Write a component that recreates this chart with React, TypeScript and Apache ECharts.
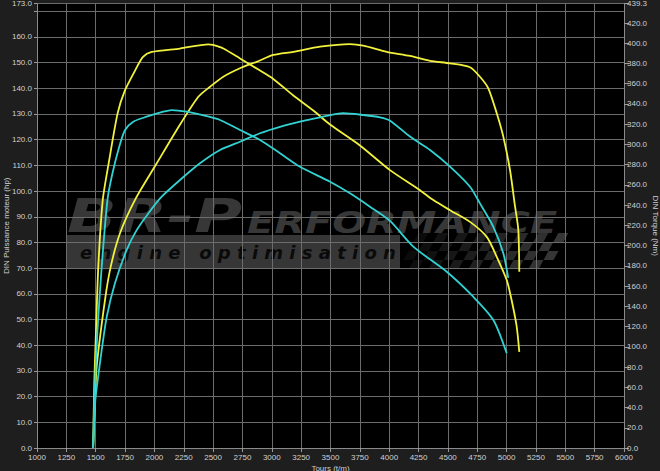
import React, { useEffect, useRef } from 'react';
import * as echarts from 'echarts';

// Engine speed axis (t/m)
const rpmMin = 1000;
const rpmMax = 6000;
const rpmStep = 250;

// Left axis (hp) and right axis (Nm)
const hpMax = 173;
const hpStep = 10;
const nmMax = 439.3;
const nmStep = 20;

// [rpm, hp] tuned power (yellow)
const tunedPower: [number, number][] = [
  [1478, 0], [1495, 18.7], [1508, 31.6], [1579, 57.6], [1628, 70.6], [1707, 83.6],
  [1835, 96.6], [2020, 110.8], [2190, 123.8], [2374, 136.7], [2474, 140.6], [2587, 144.5],
  [2729, 147.8], [2871, 150.3], [3013, 153], [3183, 154.2], [3411, 156.2], [3666, 157.2],
  [3779, 156.6], [3979, 154.2], [4177, 152.6], [4348, 150.7], [4518, 149.7], [4688, 148.2],
  [4773, 144.5], [4844, 140], [4916, 130.3], [4972, 121.2], [5029, 108.2], [5072, 94],
  [5100, 84.8], [5108, 68.6],
];

// [rpm, Nm] tuned torque (yellow)
const tunedTorque: [number, number][] = [
  [1478, 0], [1488, 64], [1502, 113.6], [1522, 179], [1560, 245], [1610, 281], [1687, 331],
  [1750, 353.6], [1835, 373], [1903, 386.5], [1977, 391.4], [2218, 394.8], [2459, 399],
  [2499, 398.3], [2587, 394.8], [2729, 385], [2900, 373], [3010, 365], [3181, 348.6],
  [3351, 333.8], [3496, 319.7], [3751, 299], [4007, 274.6], [4262, 254.8], [4376, 245],
  [4518, 235], [4688, 223.5], [4831, 208.7], [4916, 189], [5001, 166], [5043, 146],
  [5086, 120], [5108, 95],
];

// [rpm, hp] stock power (cyan)
const stockPower: [number, number][] = [
  [1478, 0], [1497, 18.7], [1514, 25.3], [1551, 38.1], [1594, 51.1], [1664, 64.1],
  [1764, 77.1], [1849, 84.8], [1948, 91.3], [2062, 97.8], [2218, 104.3], [2388, 110.8],
  [2559, 116], [2729, 119.2], [2900, 122.5], [3070, 125], [3240, 127], [3411, 128.7],
  [3609, 130.3], [3779, 129.6], [3922, 128.7], [4007, 127.4], [4177, 121.2], [4348, 116],
  [4518, 109.5], [4688, 101.7], [4773, 95.2], [4887, 86.1], [4972, 75.8], [5014, 66.2],
];

// [rpm, Nm] stock torque (cyan)
const stockTorque: [number, number][] = [
  [1478, 0], [1488, 47], [1514, 114], [1551, 179], [1600, 245], [1640, 270], [1701, 298],
  [1750, 314.3], [1820, 322.5], [1934, 327.4], [2076, 332.4], [2147, 334], [2275, 332.4],
  [2445, 328], [2559, 324.2], [2729, 314.3], [2900, 304.4], [3070, 291.3], [3240, 278],
  [3496, 263.2], [3666, 251.7], [3836, 238.5], [4007, 224.4], [4205, 199], [4490, 174.2],
  [4716, 149.5], [4887, 126.5], [5001, 93.6],
];

const W = 660;
const H = 471;
const G = { left: 37, right: 36, top: 3.5, bottom: 23 };

const YELLOW = '#f2f23c';
const CYAN = '#32d2d2';
const LABEL = '#d0d0d0';
const GRIDC = '#6c6c6c';
const FONT = 'Liberation Sans, Arial, sans-serif';

function flagSquares() {
  const out: any[] = [];
  const rows = 4;
  const cols = 15;
  const s = 9;
  for (let r = 0; r < rows; r++) {
    for (let c = 0; c < cols; c++) {
      if ((r + c) % 2 !== 0) continue;
      const y0 = 233 + r * s;
      const y1 = y0 + s;
      const xs = (y: number) => (270 - y) * 0.55;
      const xl = 398 + c * 10;
      out.push({
        type: 'polygon',
        z: -1,
        silent: true,
        shape: {
          points: [
            [xl + xs(y0), y0], [xl + 10 + xs(y0), y0],
            [xl + 10 + xs(y1), y1], [xl + xs(y1), y1],
          ],
        },
        style: { fill: '#363636', opacity: 0.2 + 0.8 * (c / (cols - 1)) },
      });
    }
  }
  return out;
}

export default function App() {
  const ref = useRef<HTMLDivElement>(null);
  useEffect(() => {
    if (!ref.current) return;
    const chart = echarts.init(ref.current, undefined, { renderer: 'svg' });
    const lineSeries = (name: string, data: [number, number][], color: string, yi: number) => ({
      name,
      type: 'line',
      data,
      yAxisIndex: yi,
      showSymbol: false,
      smooth: 0.25,
      lineStyle: { color, width: 1.8 },
      itemStyle: { color },
      z: 5,
    });
    chart.setOption({
      animation: false,
      backgroundColor: '#1e1e1e',
      textStyle: { fontFamily: FONT },
      grid: { ...G, show: false, containLabel: false, outerBoundsMode: 'none' },
      graphic: [
        {
          type: 'rect', z: -2, silent: true,
          shape: { x: G.left, y: G.top, width: W - G.left - G.right, height: H - G.top - G.bottom },
          style: { fill: '#000000' },
        },
        {
          type: 'rect', z: -1, silent: true,
          shape: { x: 66, y: 235, width: 334, height: 33 },
          style: { fill: '#363636' },
        },
        ...flagSquares(),
        {
          type: 'text', z: -1, silent: true, x: 67, y: 216.5, scaleX: 1.42,
          style: {
            text: 'BR-P', fill: '#373737', font: 'italic bold 46px "DejaVu Sans"',
            align: 'left', verticalAlign: 'middle',
          },
        },
        {
          type: 'text', z: -1, silent: true, x: 247, y: 222, scaleX: 1.33,
          style: {
            text: 'ERFORMANCE', fill: '#373737', font: 'italic bold 30px "DejaVu Sans"',
            align: 'left', verticalAlign: 'middle',
          },
        },
        {
          type: 'text', z: -1, silent: true, x: 80, y: 252,
          style: {
            text: 'e n g i n e   o p t i m i s a t i o n', fill: '#0a0a0a',
            font: 'italic bold 18px "DejaVu Sans"', align: 'left', verticalAlign: 'middle',
          },
        },
      ],
      xAxis: {
        type: 'value',
        min: rpmMin,
        max: rpmMax,
        interval: rpmStep,
        name: 'Tours (t/m)',
        nameLocation: 'middle',
        nameGap: 16,
        nameMoveOverlap: false,
        nameTextStyle: { color: LABEL, fontSize: 8, fontFamily: FONT },
        axisLine: { show: true, lineStyle: { color: '#8a8a8a' } },
        axisTick: { show: true, length: 4, lineStyle: { color: '#9a9a9a' } },
        axisLabel: {
          color: LABEL, fontSize: 8, margin: 5, fontFamily: FONT,
          formatter: (v: number) => String(v),
        },
        splitLine: { show: true, lineStyle: { color: GRIDC, width: 1 } },
      },
      yAxis: [
        {
          type: 'value',
          position: 'left',
          min: 0,
          max: hpMax,
          interval: hpStep,
          name: 'DIN Puissance moteur (hp)',
          nameLocation: 'middle',
          nameGap: 27,
          nameMoveOverlap: false,
          nameTextStyle: { color: LABEL, fontSize: 8, fontFamily: FONT },
          axisLine: { show: true, lineStyle: { color: '#8a8a8a' } },
          axisTick: { show: true, length: 3, lineStyle: { color: '#9a9a9a' } },
          axisLabel: {
            color: LABEL, fontSize: 8, margin: 5, fontFamily: FONT,
            formatter: (v: number) => (v === 170 ? '' : v.toFixed(1)),
          },
          splitLine: { show: true, lineStyle: { color: GRIDC, width: 1 } },
        },
        {
          type: 'value',
          position: 'right',
          min: 0,
          max: nmMax,
          interval: nmStep,
          name: 'DIN Torque (Nm)',
          nameLocation: 'middle',
          nameRotate: -90,
          nameGap: 27,
          nameMoveOverlap: false,
          nameTextStyle: { color: LABEL, fontSize: 8, fontFamily: FONT },
          axisLine: { show: true, lineStyle: { color: '#8a8a8a' } },
          axisTick: { show: true, length: 5, lineStyle: { color: '#9a9a9a' } },
          axisLabel: {
            color: LABEL, fontSize: 8, margin: 3, fontFamily: FONT,
            formatter: (v: number) => v.toFixed(1),
          },
          splitLine: { show: false },
        },
      ],
      series: [
        lineSeries('Puissance optimisée', tunedPower, YELLOW, 0),
        lineSeries('Couple optimisé', tunedTorque, YELLOW, 1),
        lineSeries('Puissance origine', stockPower, CYAN, 0),
        lineSeries('Couple origine', stockTorque, CYAN, 1),
      ],
    });
    return () => chart.dispose();
  }, []);
  return (
    <div
      ref={ref}
      style={{ position: 'fixed', left: 0, top: 0, width: W, height: H }}
    />
  );
}
